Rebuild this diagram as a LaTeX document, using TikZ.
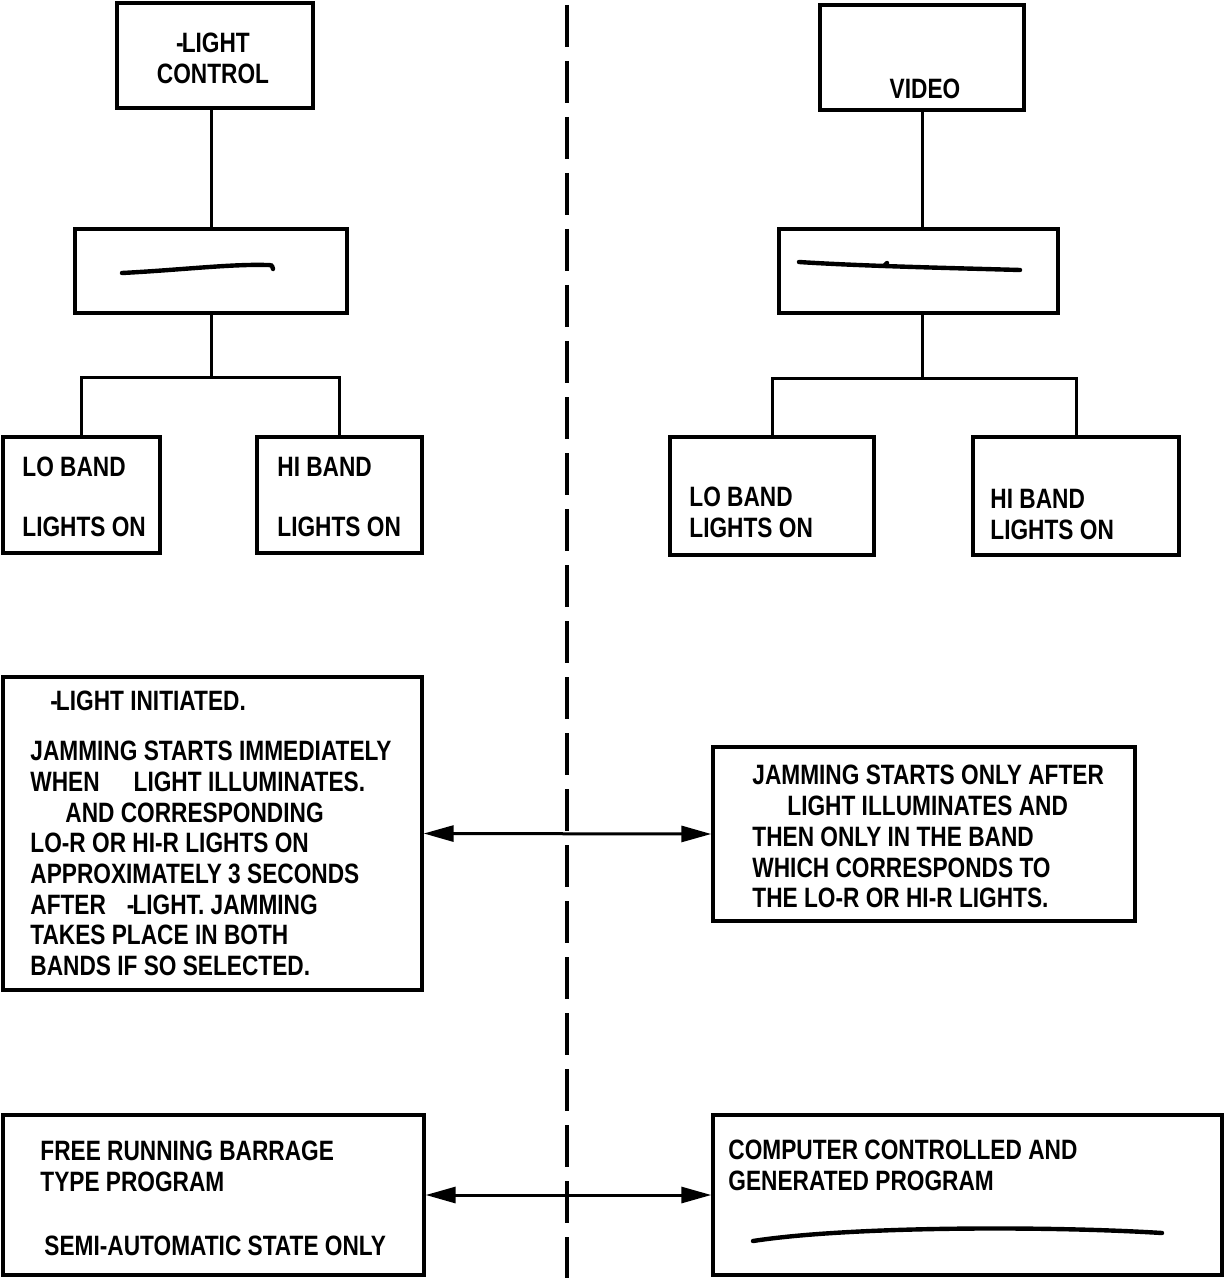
\documentclass[tikz,border=0pt]{standalone}
\usepackage{fontspec}
\newfontfamily\lettering{Liberation Sans}[FakeStretch=0.81]
\usetikzlibrary{fit,arrows.meta}
\begin{document}
\begin{tikzpicture}[x=0.5pt,y=-0.5pt,
  frame/.style={draw, line width=1.7pt, inner sep=0pt},
  wire/.style={line width=1.5pt},
  twoway/.style={wire, {Triangle[length=15pt,width=8pt]}-{Triangle[length=15pt,width=8pt]}},
  divider/.style={line width=1.8pt, dash pattern=on 21pt off 7pt},
  scribble/.style={line width=2.2pt, line cap=round},
  lettext/.style={inner sep=0pt, anchor=north west, align=left,
    font=\lettering\bfseries\fontsize{14}{15.35}\selectfont},
  centertext/.style={lettext, anchor=north, align=center}
]
\useasboundingbox (0,0) rectangle (1224,1278);

% dividing line between the two columns
\coordinate (dtop) at (567,5);
\coordinate (dbot) at (567,1278);
\draw[divider] (dtop) -- (dbot);

% ---------- left column: control tree ----------
\node[frame, fit={(117,3) (313,108)}] (lctrl) {};
\node[centertext] (tlctrl) at (213,33) {-\kern-1pt LIGHT\\CONTROL};
\node[frame, fit={(75,229) (347,313)}] (lmid) {};
\node[frame, fit={(3,437) (160,553)}] (llo) {};
\node[frame, fit={(257,437) (422,553)}] (lhi) {};
\node[lettext] (tllo) at (22,457) {LO BAND\\[14.5pt]LIGHTS ON};
\node[lettext] (tlhi) at (277,457) {HI BAND\\[14.5pt]LIGHTS ON};

\draw[wire] (lmid.north |- lctrl.south) -- (lmid.north);
\coordinate (lj) at ([yshift=-31.5pt]lmid.south);
\draw[wire] (lmid.south) -- (lj);
\draw[wire] (llo.north) |- (lj) -| (lhi.north);

\draw[scribble] (122,273) .. controls (180,270) and (230,264) .. (266,265)
  .. controls (272,265) .. (273,269);

% ---------- right column: video tree ----------
\node[frame, fit={(820,5) (1024,110)}] (video) {};
\node[centertext] (tvideo) at (925,79) {VIDEO};
\node[frame, fit={(779,229) (1058,313)}] (rmid) {};
\node[frame, fit={(670,437) (874,555)}] (rlo) {};
\node[frame, fit={(973,437) (1179,555)}] (rhi) {};
\node[lettext] (trlo) at (689,487) {LO BAND\\LIGHTS ON};
\node[lettext] (trhi) at (990,489) {HI BAND\\LIGHTS ON};

\draw[wire] (video.south) -- (video.south |- rmid.north);
\coordinate (rj) at ([yshift=-32pt]video.south |- rmid.south);
\draw[wire] (video.south |- rmid.south) -- (rj);
\draw[wire] (rlo.north) |- (rj) -| (rhi.north);

\draw[scribble] (799,262) .. controls (860,266) and (950,268) .. (1020,270);
\draw[scribble] (884,266) -- (887,263);

% ---------- initiation descriptions ----------
\node[frame, fit={(3,677) (422,990)}] (linit) {};
\node[lettext] (tlinit) at (30,691) {\hspace*{10pt}-\kern-1pt LIGHT INITIATED.\\[9.5pt]
JAMMING STARTS IMMEDIATELY\\
WHEN\hspace{17pt}LIGHT ILLUMINATES.\\
\hspace*{17.5pt}AND CORRESPONDING\\
LO-R OR HI-R LIGHTS ON\\
APPROXIMATELY 3 SECONDS\\
AFTER\hspace{10.5pt}-\kern-1pt LIGHT. JAMMING\\
TAKES PLACE IN BOTH\\
BANDS IF SO SELECTED.};

\node[frame, fit={(713,747) (1135,921)}] (rjam) {};
\node[lettext] (trjam) at (752,765) {JAMMING STARTS ONLY AFTER\\
\hspace*{17.5pt}LIGHT ILLUMINATES AND\\
THEN ONLY IN THE BAND\\
WHICH CORRESPONDS TO\\
THE LO-R OR HI-R LIGHTS.};

\draw[twoway] (linit.east) -- (rjam.west);

% ---------- program descriptions ----------
\node[frame, fit={(3,1115) (424,1275)}] (lfree) {};
\node[lettext] (tlfree) at (40,1141) {FREE RUNNING BARRAGE\\TYPE PROGRAM\\[16.5pt]
\hspace*{2pt}SEMI-AUTOMATIC STATE ONLY};

\node[frame, fit={(713,1115) (1222,1275)}] (rcomp) {};
\node[lettext] (trcomp) at (728,1140) {COMPUTER CONTROLLED AND\\GENERATED PROGRAM};
\draw[scribble] (753,1241) .. controls (850,1226) and (1050,1226) .. (1162,1233);

\draw[twoway] (lfree.east) -- (rcomp.west);
\end{tikzpicture}
\end{document}
